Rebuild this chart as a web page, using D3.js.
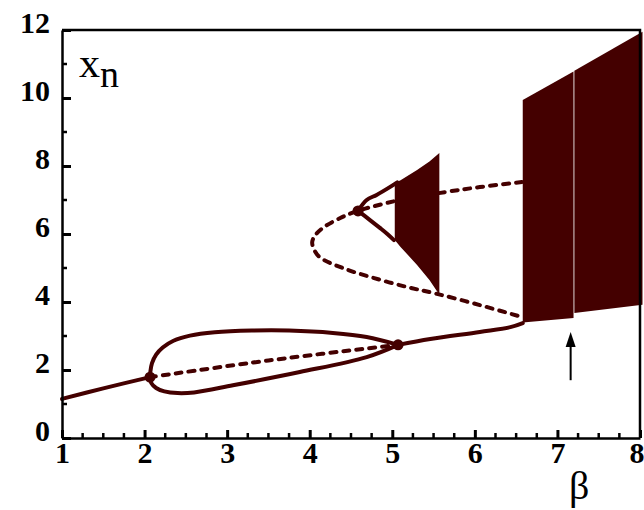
<!DOCTYPE html>
<html>
<head>
<meta charset="utf-8">
<script src="https://cdn.jsdelivr.net/npm/d3@7"></script>
<style>
  html, body { margin: 0; padding: 0; background: #fff; }
  svg { display: block; }
  .tick text { font-family: "Liberation Serif", "Times New Roman", serif; font-weight: bold; font-size: 30px; fill: #000; }
</style>
</head>
<body>
<script>
// Bifurcation diagram of x_n versus beta.
const xTicks = [1, 2, 3, 4, 5, 6, 7, 8];
const xMinor = d3.range(1, 8.001, 0.25).filter(v => Math.abs(v - Math.round(v)) > 1e-6);
const yTicks = [0, 2, 4, 6, 8, 10, 12];
const yMinor = [1, 3, 5, 7, 9, 11];

// Stable fixed point before the first period doubling
const fixedLow = [[1.0, 1.15], [1.5, 1.46], [2.066, 1.79]];
// Unstable fixed point continued through the period-2 bubble
const fixedUnstable = [[2.066, 1.79], [3.5, 2.28], [5.07, 2.74]];
// Period-2 bubble: upper and lower branches
const bubbleUpper = [[2.066, 1.79], [2.07, 1.95], [2.09, 2.2], [2.14, 2.45], [2.22, 2.66], [2.35, 2.86],
                     [2.55, 3.01], [2.85, 3.11], [3.3, 3.16], [3.75, 3.16], [4.28, 3.09], [4.69, 2.97], [5.07, 2.74]];
const bubbleLower = [[2.066, 1.79], [2.08, 1.62], [2.14, 1.47], [2.24, 1.37], [2.4, 1.32], [2.6, 1.34],
                     [3.07, 1.55], [3.88, 1.94], [4.69, 2.38], [5.07, 2.74]];
// Stable fixed point after the bubble closes
const fixedHigh = [[5.07, 2.74], [5.46, 2.91], [6.06, 3.12], [6.43, 3.26], [6.58, 3.38]];
// Unstable folded branch (saddle-node turning back near beta = 4)
const foldBranch = [[6.57, 7.53], [6.06, 7.38], [5.66, 7.24], [5.09, 7.00], [4.585, 6.68], [4.37, 6.47],
                    [4.16, 6.18], [4.06, 5.94], [4.03, 5.76], [4.05, 5.56], [4.12, 5.32], [4.40, 5.00],
                    [4.77, 4.71], [5.18, 4.44], [5.54, 4.24], [6.06, 3.91], [6.58, 3.55]];
// Period doubling on the upper part of the fold
const pdUpper = [[4.585, 6.68], [4.69, 7.00], [4.81, 7.15], [4.97, 7.38], [5.06, 7.52]];
const pdLower = [[4.585, 6.68], [4.73, 6.41], [4.85, 6.18], [4.94, 6.00], [5.02, 5.82]];
// Chaotic band that follows the cascade
const smallBandBeta = [5.03, 5.10, 5.30, 5.45, 5.57];
const smallBandLow  = [5.82, 5.62, 5.09, 4.65, 4.21];
const smallBandHigh = [7.50, 7.58, 7.88, 8.13, 8.38];
// Large chaotic region, split by a narrow periodic window near beta = 7.2
const bigBandBeta = [6.58, 7.195, 7.205, 8.03];
const bigBandLow  = [3.40, 3.53, 3.68, 3.92];
const bigBandHigh = [9.94, 10.78, 10.80, 11.95];
const windowBeta = [7.195, 7.205];
// Bifurcation points
const nodes = [[2.066, 1.79], [5.07, 2.74], [4.585, 6.68]];
// Arrow marking the periodic window
const arrowBeta = 7.16, arrowFrom = 1.7, arrowTo = 3.12;

const W = 644, H = 510;
const color = "#440000";

const svg = d3.select("body").append("svg").attr("width", W).attr("height", H);

const x = d3.scaleLinear().domain([1, 8]).range([62, 640]);
const y = d3.scaleLinear().domain([0, 12]).range([438, 30]);

const line = d3.line().x(d => x(d[0])).y(d => y(d[1])).curve(d3.curveCatmullRom.alpha(0.5));

const plot = svg.append("g");

// Dashed unstable branches
[fixedUnstable, foldBranch].forEach(pts => {
  plot.append("path").attr("d", line(pts))
    .attr("fill", "none").attr("stroke", color).attr("stroke-width", 4)
    .attr("stroke-dasharray", "6,7").attr("stroke-linecap", "round");
});

// Solid stable branches
[fixedLow, bubbleUpper, bubbleLower, fixedHigh, pdUpper, pdLower].forEach(pts => {
  plot.append("path").attr("d", line(pts))
    .attr("fill", "none").attr("stroke", color).attr("stroke-width", 4)
    .attr("stroke-linecap", "round");
});

// Chaotic bands
const area = d3.area().x(d => x(d.b)).y0(d => y(d.lo)).y1(d => y(d.hi));
const smallBand = smallBandBeta.map((b, i) => ({ b, lo: smallBandLow[i], hi: smallBandHigh[i] }));
plot.append("path").attr("d", area(smallBand)).attr("fill", color);

const bigBand = bigBandBeta.map((b, i) => ({ b, lo: bigBandLow[i], hi: bigBandHigh[i] }));
const bigLeft = bigBand.filter(d => d.b <= windowBeta[0]);
const bigRight = bigBand.filter(d => d.b >= windowBeta[1]);
plot.append("path").attr("d", area(bigLeft)).attr("fill", color);
plot.append("path").attr("d", area(bigRight)).attr("fill", color);

// Bifurcation points
plot.selectAll("circle.node").data(nodes).join("circle")
  .attr("cx", d => x(d[0])).attr("cy", d => y(d[1])).attr("r", 5.5).attr("fill", color);

// Arrow
svg.append("line")
  .attr("x1", x(arrowBeta)).attr("x2", x(arrowBeta))
  .attr("y1", y(arrowFrom)).attr("y2", y(arrowTo) + 12)
  .attr("stroke", "#000").attr("stroke-width", 2);
svg.append("path")
  .attr("d", `M${x(arrowBeta) - 5},${y(arrowTo) + 15} L${x(arrowBeta)},${y(arrowTo)} L${x(arrowBeta) + 5},${y(arrowTo) + 15} Z`)
  .attr("fill", "#000");

// Frame
svg.append("path")
  .attr("d", `M${x(1)},${y(12)} L${x(8)},${y(12)} L${x(8)},${y(0)}`)
  .attr("fill", "none").attr("stroke", "#000").attr("stroke-width", 2.5);

// Axes with inward ticks
const xAxis = svg.append("g").attr("transform", `translate(0,${y(0)})`)
  .call(d3.axisBottom(x).tickValues(xTicks).tickFormat(d3.format("d")).tickSize(-8).tickSizeOuter(0).tickPadding(4));
xAxis.selectAll(".tick line").attr("stroke-width", 3);
xAxis.select(".domain").attr("stroke-width", 2.5);
// keep the last label inside the page edge
xAxis.selectAll(".tick text").filter(d => d === 8).attr("text-anchor", "end").attr("x", W - x(8));
xAxis.selectAll("line.minor").data(xMinor).join("line").attr("class", "minor")
  .attr("x1", d => x(d)).attr("x2", d => x(d)).attr("y1", 0).attr("y2", -5)
  .attr("stroke", "#000").attr("stroke-width", 2.5);

const yAxis = svg.append("g").attr("transform", `translate(${x(1)},0)`)
  .call(d3.axisLeft(y).tickValues(yTicks).tickFormat(d3.format("d")).tickSize(-9).tickSizeOuter(0).tickPadding(12));
yAxis.selectAll(".tick line").attr("stroke-width", 3);
yAxis.selectAll(".tick text").attr("dy", "2px");
yAxis.select(".domain").attr("stroke-width", 2.5);
yAxis.selectAll("line.minor").data(yMinor).join("line").attr("class", "minor")
  .attr("x1", 0).attr("x2", 5).attr("y1", d => y(d)).attr("y2", d => y(d))
  .attr("stroke", "#000").attr("stroke-width", 2.5);

// Axis titles
const yTitle = svg.append("text").attr("x", 79).attr("y", 77)
  .attr("font-family", "Liberation Serif, Times New Roman, serif").attr("fill", "#000");
yTitle.append("tspan").attr("font-size", 42).text("x");
yTitle.append("tspan").attr("font-size", 38).attr("dy", 10).text("n");

svg.append("text").attr("x", 569).attr("y", 499)
  .attr("font-family", "Liberation Serif, Times New Roman, serif").attr("font-size", 40)
  .attr("fill", "#000").text("β");
</script>
</body>
</html>
